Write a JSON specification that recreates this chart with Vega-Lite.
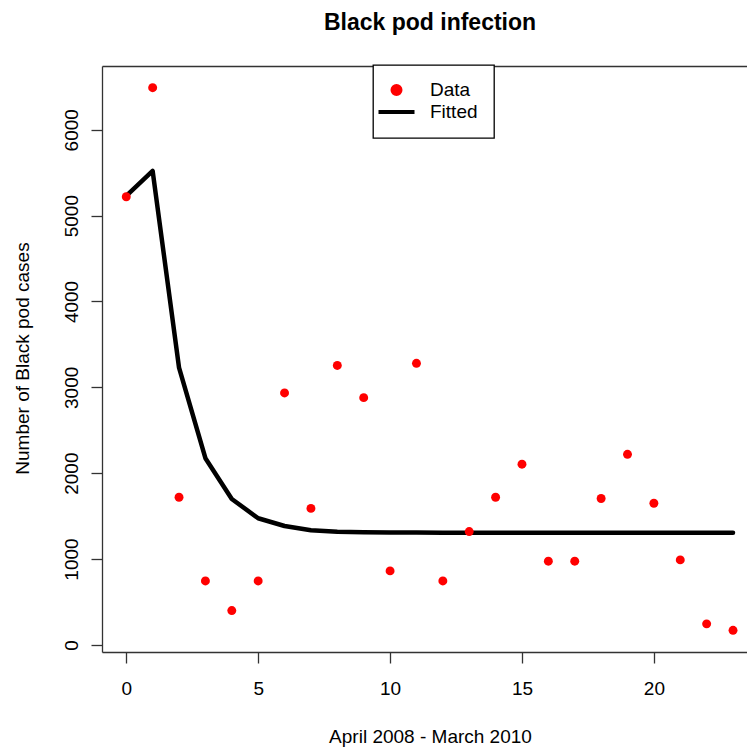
{
  "$schema": "https://vega.github.io/schema/vega-lite/v6.json",
  "width": 645,
  "height": 586,
  "autosize": {"type": "none"},
  "padding": {"left": 102, "top": 66, "right": 0, "bottom": 98},
  "background": "white",
  "config": {"view": {"stroke": null}, "font": "Liberation Sans"},
  "title": {"text": "Black pod infection", "fontSize": 23, "fontWeight": "bold", "font": "Liberation Sans", "color": "black", "anchor": "middle", "baseline": "alphabetic", "offset": 11, "dx": 5.5},
  "data": {"values": [
    {"t": 0, "value": 5220, "series": "Data"},
    {"t": 1, "value": 6490, "series": "Data"},
    {"t": 2, "value": 1720, "series": "Data"},
    {"t": 3, "value": 745, "series": "Data"},
    {"t": 4, "value": 400, "series": "Data"},
    {"t": 5, "value": 745, "series": "Data"},
    {"t": 6, "value": 2935, "series": "Data"},
    {"t": 7, "value": 1590, "series": "Data"},
    {"t": 8, "value": 3255, "series": "Data"},
    {"t": 9, "value": 2880, "series": "Data"},
    {"t": 10, "value": 862, "series": "Data"},
    {"t": 11, "value": 3280, "series": "Data"},
    {"t": 12, "value": 745, "series": "Data"},
    {"t": 13, "value": 1320, "series": "Data"},
    {"t": 14, "value": 1720, "series": "Data"},
    {"t": 15, "value": 2105, "series": "Data"},
    {"t": 16, "value": 975, "series": "Data"},
    {"t": 17, "value": 975, "series": "Data"},
    {"t": 18, "value": 1705, "series": "Data"},
    {"t": 19, "value": 2220, "series": "Data"},
    {"t": 20, "value": 1650, "series": "Data"},
    {"t": 21, "value": 990, "series": "Data"},
    {"t": 22, "value": 245, "series": "Data"},
    {"t": 23, "value": 170, "series": "Data"},
    {"t": 0, "value": 5230, "series": "Fitted"},
    {"t": 1, "value": 5520, "series": "Fitted"},
    {"t": 2, "value": 3230, "series": "Fitted"},
    {"t": 3, "value": 2175, "series": "Fitted"},
    {"t": 4, "value": 1700, "series": "Fitted"},
    {"t": 5, "value": 1475, "series": "Fitted"},
    {"t": 6, "value": 1385, "series": "Fitted"},
    {"t": 7, "value": 1335, "series": "Fitted"},
    {"t": 8, "value": 1318, "series": "Fitted"},
    {"t": 9, "value": 1312, "series": "Fitted"},
    {"t": 10, "value": 1309, "series": "Fitted"},
    {"t": 11, "value": 1308, "series": "Fitted"},
    {"t": 12, "value": 1307, "series": "Fitted"},
    {"t": 13, "value": 1307, "series": "Fitted"},
    {"t": 14, "value": 1307, "series": "Fitted"},
    {"t": 15, "value": 1307, "series": "Fitted"},
    {"t": 16, "value": 1307, "series": "Fitted"},
    {"t": 17, "value": 1307, "series": "Fitted"},
    {"t": 18, "value": 1307, "series": "Fitted"},
    {"t": 19, "value": 1307, "series": "Fitted"},
    {"t": 20, "value": 1307, "series": "Fitted"},
    {"t": 21, "value": 1307, "series": "Fitted"},
    {"t": 22, "value": 1307, "series": "Fitted"},
    {"t": 23, "value": 1307, "series": "Fitted"}
  ]},
  "resolve": {"axis": {"x": "independent"}},
  "layer": [
    {
      "transform": [{"filter": "datum.series === 'Fitted'"}],
      "mark": {"type": "line", "strokeWidth": 4.5, "strokeCap": "round", "strokeJoin": "round"},
      "encoding": {
        "x": {"field": "t", "type": "quantitative",
          "scale": {"domain": [-0.92, 23.53], "nice": false, "zero": false},
          "axis": {"orient": "bottom", "values": [0, 5, 10, 15, 20], "grid": false, "title": "April 2008 - March 2010",
            "domainColor": "#333", "domainWidth": 1.3, "tickColor": "#333", "tickWidth": 1.3, "tickSize": 11,
            "labelFontSize": 19, "labelFont": "Liberation Sans", "labelColor": "black", "labelBaseline": "alphabetic", "labelPadding": 31, "labelFlush": false,
            "titleFontSize": 19, "titleFont": "Liberation Sans", "titleFontWeight": "normal", "titleColor": "black",
            "titleX": 328, "titleY": 90, "titleAlign": "center", "titleBaseline": "alphabetic"}},
        "y": {"field": "value", "type": "quantitative",
          "scale": {"domain": [-82.8, 6742.8], "nice": false, "zero": false},
          "axis": {"values": [0, 1000, 2000, 3000, 4000, 5000, 6000], "format": "d", "grid": false, "title": "Number of Black pod cases",
            "domainColor": "#333", "domainWidth": 1.3, "tickColor": "#333", "tickWidth": 1.3, "tickSize": 11,
            "labelFontSize": 19, "labelFont": "Liberation Sans", "labelColor": "black", "labelAngle": -90, "labelAlign": "center", "labelBaseline": "alphabetic", "labelPadding": 14, "labelFlush": false,
            "titleFontSize": 19, "titleFont": "Liberation Sans", "titleFontWeight": "normal", "titleColor": "black",
            "titleX": -74, "titleY": 292, "titleAngle": -90, "titleAlign": "center", "titleBaseline": "alphabetic"}},
        "color": {"field": "series", "type": "nominal",
          "scale": {"domain": ["Data", "Fitted"], "range": ["red", "black"]},
          "legend": {"orient": "none", "legendX": 271, "legendY": -1, "title": null,
            "strokeColor": "black", "fillColor": "white", "padding": 15.5,
            "labelFontSize": 19, "labelFont": "Liberation Sans", "labelColor": "black",
            "symbolSize": 64, "symbolOffset": -1.5, "labelOffset": 24, "rowPadding": 0,
            "encode": {"legend": {"update": {"strokeWidth": {"value": 1.3}}},
              "symbols": {"update": {"stroke": {"signal": "datum.value === 'Fitted' ? 'black' : 'transparent'"}, "strokeWidth": {"value": 4}}}}}}
      }
    },
    {
      "transform": [{"filter": "datum.series === 'Data'"}],
      "mark": {"type": "point", "filled": true, "size": 80, "opacity": 1},
      "encoding": {
        "x": {"field": "t", "type": "quantitative",
          "axis": {"orient": "top", "labels": false, "ticks": false, "grid": false, "title": null, "domainColor": "#333", "domainWidth": 1.3}},
        "y": {"field": "value", "type": "quantitative"},
        "color": {"field": "series", "type": "nominal"},
        "shape": {"field": "series", "type": "nominal",
          "scale": {"domain": ["Data", "Fitted"], "range": ["circle", "M-4.5,0H4.5"]}}
      }
    }
  ]
}
